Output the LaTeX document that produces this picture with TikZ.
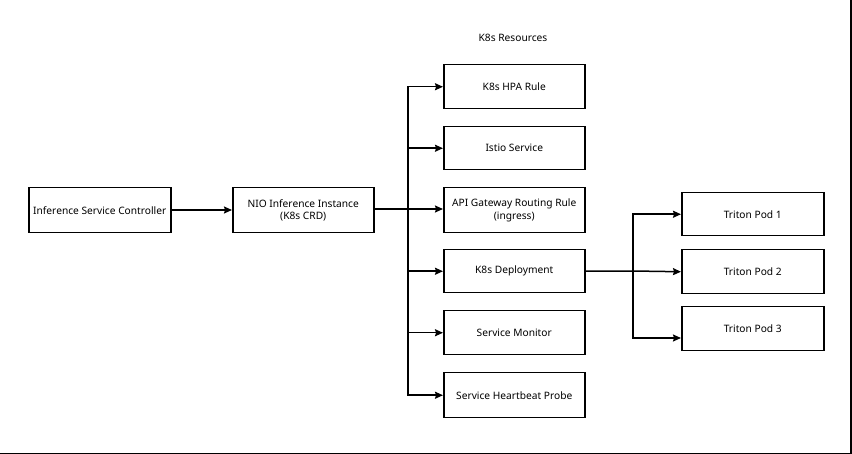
\documentclass[tikz,border=0pt]{standalone}
\usepackage{fontspec}
\setmainfont{Noto Sans}
\usetikzlibrary{arrows.meta}
\begin{document}
\begin{tikzpicture}[x=1pt,y=-1pt,
  box/.style={draw,line width=1.5pt,minimum width=141pt,minimum height=44pt,inner sep=0pt,align=center,font=\fontsize{10.2}{12.5}\selectfont,anchor=north west},
  conn/.style={line width=1.5pt,-{Stealth[length=8pt,width=7pt,inset=1pt]}},
  wire/.style={line width=1.5pt}]
\useasboundingbox (0,0) rectangle (852,454);
\draw[line width=1.5pt] (851,0) -- (851,453.3) -- (0,453.3);
\node[box,minimum width=142pt,minimum height=45pt] (isc) at (28,187) {Inference Service Controller};
\node[box,minimum height=45pt] (nio) at (232,187) {NIO Inference Instance\\(K8s CRD)};
\node[font=\fontsize{10.2}{12.5}\selectfont] (lbl) at (513,38) {K8s Resources};
\node[box] (hpa) at (443,64) {K8s HPA Rule};
\node[box,minimum height=43pt] (istio) at (443,126) {Istio Service};
\node[box,minimum height=45pt] (api) at (443,187) {API Gateway Routing Rule\\(ingress)};
\node[box,minimum height=43pt] (dep) at (443,249) {K8s Deployment};
\node[box] (mon) at (443,310) {Service Monitor};
\node[box,minimum height=45pt] (hb) at (443,372) {Service Heartbeat Probe};
\node[box,minimum width=142pt,minimum height=43pt] (p1) at (681,192) {Triton Pod 1};
\node[box,minimum width=142pt,minimum height=44pt] (p2) at (681,249) {Triton Pod 2};
\node[box,minimum width=142pt,minimum height=44pt] (p3) at (681,306) {Triton Pod 3};
\coordinate (bus) at (408,209);
\coordinate (bus2) at (633,271);
\draw[conn] (isc.east |- 0,210) -- (nio.west |- 0,210);
\draw[wire] (nio.east |- bus) -- (bus);
\draw[conn] (bus) -- (api.west |- bus);
\draw[conn] (bus) -- (bus |- hpa.west) -- (hpa.west);
\draw[conn] (bus |- istio.west) -- (istio.west);
\draw[conn] (bus) -- (bus |- hb.west) -- (hb.west);
\draw[conn] (bus |- dep.west) -- (dep.west);
\draw[conn] (bus |- mon.west) -- (mon.west);
\draw[wire] (dep.east) -- (bus2);
\draw[conn] (bus2) -- (p2.west);
\draw[conn] (bus2) -- (bus2 |- p1.west) -- (p1.west);
\draw[conn] (bus2) -- (633,338) -- (p3.west |- 0,338);
\end{tikzpicture}
\end{document}
